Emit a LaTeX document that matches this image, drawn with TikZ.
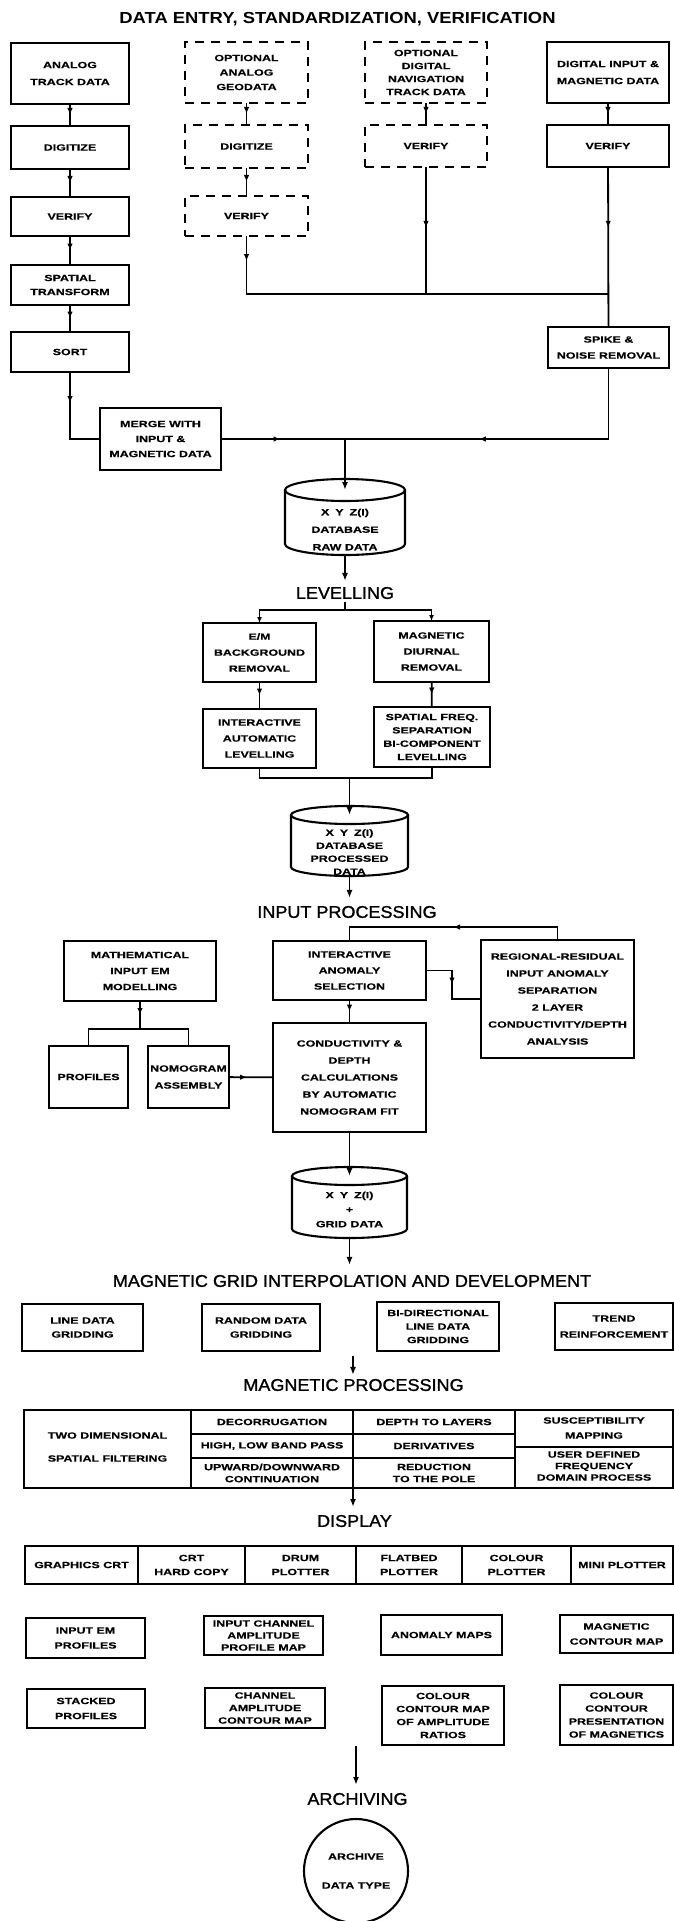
\documentclass[tikz,border=0pt]{standalone}
\usepackage{fontspec}
\setmainfont{Liberation Sans}
\newfontfamily\boxf[FakeStretch=1.38,FakeBold=0.4]{Liberation Sans}
\newfontfamily\secf[FakeStretch=1.06,FakeBold=1.2]{Liberation Sans}
\newfontfamily\ttlf[FakeStretch=1.15]{Liberation Sans}
\usetikzlibrary{arrows.meta,decorations.markings,calc}

\tikzset{
  btext/.style={inner sep=0pt,outer sep=0pt,align=center,font=\boxf\bfseries\fontsize{9}{14}\selectfont},
  box/.style={btext,draw,line width=2.1pt},
  dbox/.style={dash pattern=on 9pt off 7pt},
  sp/.style={font=\boxf\bfseries\fontsize{9}{#1}\selectfont},
  ln/.style={line width=1.8pt},
  cyl/.style={line width=2.1pt},
  tip/.style={-{Latex[length=8pt,width=6pt]}},
  midarr/.style={postaction={decorate},decoration={markings,mark=at position #1 with {\arrow{Latex[length=7pt,width=5.5pt]}}}},
  midarr/.default=0.5,
  sect/.style={inner sep=0pt,outer sep=0pt,font=\secf\fontsize{17}{17}\selectfont},
  ttl/.style={inner sep=0pt,outer sep=0pt,font=\ttlf\bfseries\fontsize{16}{16}\selectfont},
}

\newcommand\bx[7][]{%
  \pgfmathsetmacro\BXw{#5-#3}%
  \pgfmathsetmacro\BXh{#6-#4}%
  \pgfmathsetmacro\BXx{(#3+#5)/2}%
  \pgfmathsetmacro\BXy{(#4+#6)/2}%
  \node[box,minimum width=\BXw pt,minimum height=\BXh pt,#1] (#2) at (\BXx,\BXy) {#7};}

\newcommand\cyl[9][]{%
  \pgfmathsetmacro\CYx{(#3+#5)/2}%
  \pgfmathsetmacro\CYr{(#5-#3)/2}%
  \pgfmathsetmacro\CYt{#4+#7}%
  \pgfmathsetmacro\CYb{#6-#7}%
  \pgfmathsetmacro\CYw{#5-#3}%
  \pgfmathsetmacro\CYh{#6-#4}%
  \pgfmathsetmacro\CYm{(#4+#6)/2}%
  \node[inner sep=0pt,outer sep=0pt,minimum width=\CYw pt,minimum height=\CYh pt] (#2) at (\CYx,\CYm) {};
  \coordinate (#2top) at (\CYx,\CYt);
  \draw[cyl] (#2top) ellipse [x radius=\CYr pt, y radius=#7 pt];
  \draw[cyl] (#3,\CYt) -- (#3,\CYb) arc [start angle=180,end angle=360,x radius=\CYr pt,y radius=#7 pt] -- (#5,\CYt);
  \node[btext,#1] (#2t) at (\CYx,#9) {#8};}

\begin{document}
\begin{tikzpicture}[x=1pt,y=-1pt]
\fill[white] (0,0) rectangle (674,1921);
\useasboundingbox (0,0) rectangle (674,1921);

\node[ttl] (title) at (337.5,19) {DATA ENTRY, STANDARDIZATION, VERIFICATION};

% ---------- data entry ----------
\bx[sp=17]{anaT}{11}{43}{129}{104}{ANALOG\\TRACK DATA}
\bx{anaD}{11}{126}{129}{169}{DIGITIZE}
\bx{anaV}{11}{197}{129}{236}{VERIFY}
\bx[sp=14]{anaS}{11}{265}{129}{305}{SPATIAL\\TRANSFORM}
\bx{sort}{11}{332}{129}{372}{SORT}

\bx[dbox,sp=14.5]{optG}{185}{42}{308}{103}{OPTIONAL\\ANALOG\\GEODATA}
\bx[dbox]{dD}{185}{125}{308}{168}{DIGITIZE}
\bx[dbox]{dV}{185}{196}{308}{236}{VERIFY}

\bx[dbox,sp=13]{nav}{365}{42}{487}{103}{OPTIONAL\\DIGITAL\\NAVIGATION\\TRACK DATA}
\bx[dbox]{nV}{365}{125}{487}{167}{VERIFY}

\bx[sp=17]{dig}{547}{42}{669}{103}{DIGITAL INPUT \&\\MAGNETIC DATA}
\bx{digV}{547}{125}{669}{167}{VERIFY}
\bx[sp=16]{spike}{548}{327}{669}{368}{SPIKE \&\\NOISE REMOVAL}

\bx[sp=15]{merge}{100}{408}{221}{470}{MERGE WITH\\INPUT \&\\MAGNETIC DATA}

\cyl[sp=17.5]{db1}{285}{479}{405}{555}{11}{X\hspace{6pt}Y\hspace{6pt}Z(I)\\DATABASE\\RAW DATA}{529.5}

\draw[ln,midarr] (anaT) -- (anaD);
\draw[ln,midarr] (anaD) -- (anaV);
\draw[ln,midarr] (anaV) -- (anaS);
\draw[ln,midarr] (anaS) -- (sort);
\draw[ln,midarr] (optG) -- (dD);
\draw[ln,midarr] (dD) -- (dV);
\draw[ln,midarr] (nav) -- (nV);
\draw[ln,midarr] (dig) -- (digV);
\coordinate (jR) at (608,294);
\draw[ln,midarr=0.06] (dV.south) |- (jR);
\draw[ln,midarr=0.48] (nV.south) -- (nV.south |- jR);
\draw[ln,midarr=0.38] (digV) -- (spike);
\coordinate (jM) at (345,439);
\draw[ln,midarr=0.6] (spike.south) |- (jM);
\draw[ln,midarr=0.48] (merge.east) -- (jM);
\draw[ln,midarr=0.32] (sort.south) |- (merge.west);
\draw[ln,tip] (jM) -- (db1top);

% ---------- levelling ----------
\node[sect] (tLev) at (345,593) {LEVELLING};
\draw[ln,tip,shorten >=6pt] (db1.south) -- (db1.south |- tLev.north);
\bx[sp=16]{em}{203}{623}{316}{682}{E/M\\BACKGROUND\\REMOVAL}
\bx[sp=16]{mag}{374}{621}{489}{682}{MAGNETIC\\DIURNAL\\REMOVAL}
\bx[sp=16]{ial}{203}{709}{316}{768}{INTERACTIVE\\AUTOMATIC\\LEVELLING}
\bx[sp=13.3]{sfs}{374}{707}{490}{767}{SPATIAL FREQ.\\SEPARATION\\BI-COMPONENT\\LEVELLING}
\coordinate (bL) at (345,610);
\draw[ln,shorten <=3pt] (tLev.south) -- (bL);
\draw[ln,-{Latex[length=6pt,width=5pt]}] (bL) -| (em.north);
\draw[ln,-{Latex[length=6pt,width=5pt]}] (bL) -| (mag.north);
\draw[ln,midarr] (em) -- (ial);
\draw[ln,midarr] (mag) -- (sfs);
\coordinate (jL) at (349.5,778);
\draw[ln] (ial.south) |- (jL);
\draw[ln] (sfs.south) |- (jL);
\cyl[sp=13]{db2}{291}{806}{408}{876}{9}{X\hspace{6pt}Y\hspace{6pt}Z(I)\\DATABASE\\PROCESSED\\DATA}{852}
\draw[ln,tip] (jL) -- (db2top);

% ---------- input processing ----------
\node[sect] (tIP) at (347,912) {INPUT PROCESSING};
\draw[ln,tip,shorten >=8pt] (db2.south) -- (db2.south |- tIP.north);
\bx[sp=16]{math}{64}{941}{216}{1001}{MATHEMATICAL\\INPUT EM\\MODELLING}
\bx[sp=16]{ia}{273}{941}{426}{1000}{INTERACTIVE\\ANOMALY\\SELECTION}
\bx[sp=17]{reg}{481}{940}{634}{1058}{REGIONAL-RESIDUAL\\INPUT ANOMALY\\SEPARATION\\2 LAYER\\CONDUCTIVITY/DEPTH\\ANALYSIS}
\bx{prof}{49}{1046}{128}{1108}{PROFILES}
\bx[sp=17]{nom}{148}{1046}{229}{1108}{NOMOGRAM\\ASSEMBLY}
\bx[sp=17]{cond}{273}{1023}{426}{1132}{CONDUCTIVITY \&\\DEPTH\\CALCULATIONS\\BY AUTOMATIC\\NOMOGRAM FIT}
\draw[ln,midarr=0.5] (reg.north) -- ++(0,-13) -| (ia.north);
\coordinate (k1) at (452,970.5);
\draw[ln,midarr=0.48] (ia.east) -- (k1) |- (reg.west);
\draw[ln,midarr] (ia) -- (cond);
\coordinate (bM) at (140,1029);
\draw[ln,midarr] (math.south) -- (bM);
\draw[ln] (bM) -| (prof.north);
\draw[ln] (bM) -| (nom.north);
\draw[ln,midarr=0.41] (nom) -- (cond);
\cyl[sp=14.5]{db3}{292}{1167}{407}{1238}{9}{X\hspace{6pt}Y\hspace{6pt}Z(I)\\+\\GRID DATA}{1209.5}
\draw[ln,tip] (cond.south) -- (db3top);

% ---------- magnetic grid ----------
\node[sect] (tMG) at (352,1281) {MAGNETIC GRID INTERPOLATION AND DEVELOPMENT};
\draw[ln,tip,shorten >=10pt] (db3.south) -- (db3.south |- tMG.north);
\bx{g1}{22}{1304}{143}{1351}{LINE DATA\\GRIDDING}
\bx{g2}{202}{1304}{320}{1351}{RANDOM DATA\\GRIDDING}
\bx[sp=13.5]{g3}{377}{1302}{499}{1351}{BI-DIRECTIONAL\\LINE DATA\\GRIDDING}
\bx[sp=16]{g4}{555}{1303}{673}{1350}{TREND\\REINFORCEMENT}

% ---------- magnetic processing ----------
\node[sect] (tMP) at (353.5,1385) {MAGNETIC PROCESSING};
\coordinate (aG) at (353,1356);
\draw[ln,tip,shorten >=4pt] (aG) -- (aG |- tMP.north);
\bx{tbl}{24}{1410}{673}{1488}{}
\draw[box] (191,1410) -- (191,1488);
\draw[box] (353,1410) -- (353,1488);
\draw[box] (515,1410) -- (515,1488);
\draw[ln] (191,1434) -- (515,1434);
\draw[ln] (191,1458) -- (515,1458);
\draw[ln] (515,1447) -- (673,1447);
\node[btext,sp=23] (c1) at (107.5,1447) {TWO DIMENSIONAL\\SPATIAL FILTERING};
\node[btext] (c21) at (272,1422) {DECORRUGATION};
\node[btext] (c22) at (272,1446) {HIGH, LOW BAND PASS};
\node[btext,sp=12] (c23) at (272,1473) {UPWARD/DOWNWARD\\CONTINUATION};
\node[btext] (c31) at (434,1422) {DEPTH TO LAYERS};
\node[btext] (c32) at (434,1446) {DERIVATIVES};
\node[btext,sp=12] (c33) at (434,1473) {REDUCTION\\TO THE POLE};
\node[btext,sp=15] (c41) at (594,1428) {SUSCEPTIBILITY\\MAPPING};
\node[btext,sp=11.5] (c42) at (594,1466) {USER DEFINED\\FREQUENCY\\DOMAIN PROCESS};

% ---------- display ----------
\node[sect] (tDisp) at (354.5,1521) {DISPLAY};
\coordinate (aT) at (353,1488);
\draw[ln,tip,shorten >=8pt] (aT) -- (aT |- tDisp.north);
\bx{d1}{25}{1546}{138}{1584}{GRAPHICS CRT}
\bx{d2}{138}{1546}{245}{1584}{CRT\\HARD COPY}
\bx{d3}{245}{1546}{356}{1584}{DRUM\\PLOTTER}
\bx{d4}{356}{1546}{462}{1584}{FLATBED\\PLOTTER}
\bx{d5}{462}{1546}{571}{1584}{COLOUR\\PLOTTER}
\bx{d6}{571}{1546}{673}{1584}{MINI PLOTTER}

\bx[sp=15]{r21}{26}{1618}{145}{1658}{INPUT EM\\PROFILES}
\bx[sp=12]{r22}{204}{1616}{323}{1655}{INPUT CHANNEL\\AMPLITUDE\\PROFILE MAP}
\bx{r23}{381}{1615}{502}{1655}{ANOMALY MAPS}
\bx[sp=15]{r24}{560}{1615}{673}{1653}{MAGNETIC\\CONTOUR MAP}
\bx[sp=15]{r31}{27}{1689}{145}{1728}{STACKED\\PROFILES}
\bx[sp=12.5]{r32}{205}{1688}{325}{1728}{CHANNEL\\AMPLITUDE\\CONTOUR MAP}
\bx[sp=13]{r33}{382}{1686}{504}{1745}{COLOUR\\CONTOUR MAP\\OF AMPLITUDE\\RATIOS}
\bx[sp=13]{r34}{560}{1685}{673}{1745}{COLOUR\\CONTOUR\\PRESENTATION\\OF MAGNETICS}

% ---------- archiving ----------
\node[sect] (tArch) at (357.5,1799) {ARCHIVING};
\coordinate (aD) at (356,1746);
\draw[ln,tip,shorten >=8pt] (aD) -- (aD |- tArch.north);
\node[btext,draw,line width=2.1pt,circle,minimum size=104pt,sp=29] (arch) at (356,1871) {ARCHIVE\\DATA TYPE};
\end{tikzpicture}
\end{document}
